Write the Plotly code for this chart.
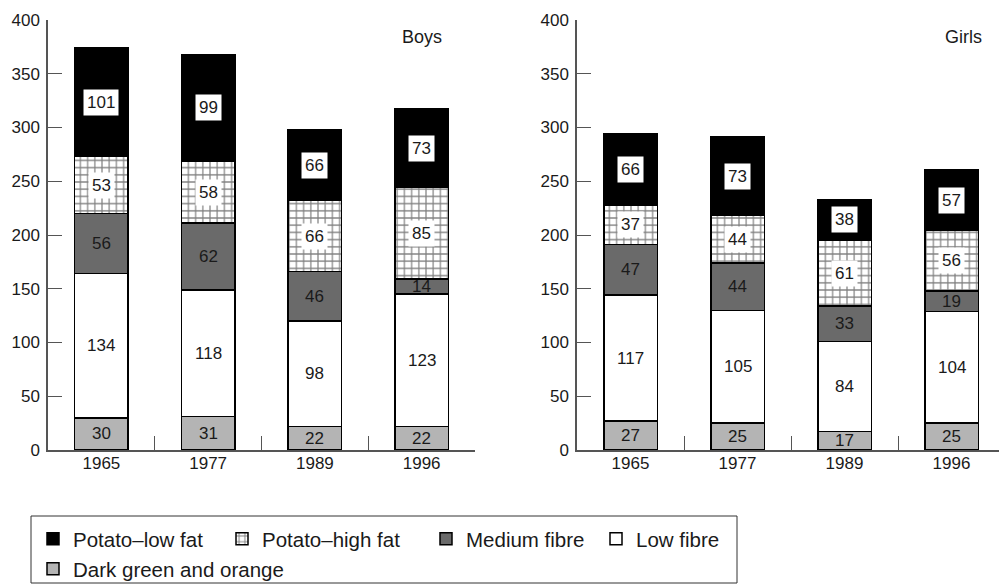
import plotly.graph_objects as go

years = ["1965", "1977", "1989", "1996"]

series_names = ["Dark green and orange", "Low fibre", "Medium fibre", "Potato\u2013high fat", "Potato\u2013low fat"]

boys_dark_green = [30, 31, 22, 22]
boys_low_fibre = [134, 118, 98, 123]
boys_medium_fibre = [56, 62, 46, 14]
boys_potato_high_fat = [53, 58, 66, 85]
boys_potato_low_fat = [101, 99, 66, 73]

girls_dark_green = [27, 25, 17, 25]
girls_low_fibre = [117, 105, 84, 104]
girls_medium_fibre = [47, 44, 33, 19]
girls_potato_high_fat = [37, 44, 61, 56]
girls_potato_low_fat = [66, 73, 38, 57]

y_ticks = [0, 50, 100, 150, 200, 250, 300, 350, 400]

FONT = "Liberation Sans, Arial, Helvetica, sans-serif"
TXT = "#1a1a1a"
AX = "#555555"
W, H = 999, 584


def px(xpix):
    return xpix / W


def py(ypix):
    return 1 - ypix / H


boys = [boys_dark_green, boys_low_fibre, boys_medium_fibre, boys_potato_high_fat, boys_potato_low_fat]
girls = [girls_dark_green, girls_low_fibre, girls_medium_fibre, girls_potato_high_fat, girls_potato_low_fat]

styles = [
    dict(color="#b4b4b4"),
    dict(color="white"),
    dict(color="#6a6a6a"),
    dict(color="white", pattern=dict(shape="+", fgcolor="black", bgcolor="white", size=7.2, solidity=0.3)),
    dict(color="black"),
]
boxed = [False, False, False, True, True]
legend_widths = [240, 100, 125, 159, 144]

fig = go.Figure()

for panel, (data, xa, ya) in enumerate([(boys, "x", "y"), (girls, "x2", "y2")]):
    for i, (name, vals) in enumerate(zip(series_names, data)):
        marker = dict(line=dict(color="black", width=1.5), **styles[i])
        fig.add_trace(go.Bar(
            x=years, y=vals, name=name, marker=marker, width=0.5,
            xaxis=xa, yaxis=ya,
            legend="legend2" if i == 0 else "legend",
            legendgroup=name, showlegend=(panel == 0),
            legendwidth=legend_widths[i], hoverinfo="skip",
        ))
    # value labels
    base = [0] * len(years)
    for i, vals in enumerate(data):
        for j, v in enumerate(vals):
            mid = base[j] + v / 2
            fig.add_annotation(
                x=j, y=mid, xref=xa, yref=ya, text=str(v), showarrow=False,
                font=dict(family=FONT, size=17, color=TXT),
                bgcolor="white" if boxed[i] else "rgba(0,0,0,0)", borderpad=3 if boxed[i] else 0,
            )
            base[j] += v

ydom = [py(450), py(20)]
axis_common = dict(
    showline=True, linecolor=AX, linewidth=1.5, ticks="inside", ticklen=14,
    tickcolor=AX, tickwidth=1.2, showgrid=False, zeroline=False, automargin=False,
    tickfont=dict(family=FONT, size=17, color=TXT),
)
fig.update_layout(
    barmode="stack",
    width=W, height=H,
    margin=dict(l=0, r=0, t=0, b=0, pad=0, autoexpand=False),
    plot_bgcolor="white", paper_bgcolor="white",
    font=dict(family=FONT, size=17, color=TXT),
    xaxis=dict(domain=[px(48), px(475)], range=[-0.5, 3.5], type="category",
               tickson="boundaries", anchor="y", ticklabelstandoff=-3, **axis_common),
    xaxis2=dict(domain=[px(577), 1.0], range=[-0.5, -0.5 + (999 - 577) / 107.0], type="category",
                tickson="boundaries", anchor="y2", ticklabelstandoff=-3, **axis_common),
    yaxis=dict(domain=ydom, range=[0, 400], tickvals=y_ticks, anchor="x", ticklabelstandoff=3, **axis_common),
    yaxis2=dict(domain=ydom, range=[0, 400], tickvals=y_ticks, anchor="x2", ticklabelstandoff=3, **axis_common),
    legend=dict(orientation="h", x=px(33), xanchor="left", y=py(539), yanchor="middle",
                traceorder="reversed", bgcolor="rgba(0,0,0,0)", borderwidth=0,
                font=dict(family=FONT, size=20.5, color=TXT)),
    legend2=dict(orientation="h", x=px(33), xanchor="left", y=py(569), yanchor="middle",
                 bgcolor="rgba(0,0,0,0)", borderwidth=0,
                 font=dict(family=FONT, size=20.5, color=TXT)),
    showlegend=True,
)

fig.add_annotation(text="Boys", x=px(422), y=py(37), xref="paper", yref="paper",
                   xanchor="center", yanchor="middle",
                   showarrow=False, font=dict(family=FONT, size=18, color=TXT))
fig.add_annotation(text="Girls", x=px(963), y=py(37), xref="paper", yref="paper",
                   xanchor="center", yanchor="middle",
                   showarrow=False, font=dict(family=FONT, size=18, color=TXT))

fig.add_shape(type="rect", xref="paper", yref="paper",
              x0=px(31), x1=px(737), y0=py(583), y1=py(516),
              line=dict(color="#333333", width=1), fillcolor="rgba(0,0,0,0)", layer="below")

fig.write_html(
    "out.html",
    config={"displayModeBar": False},
    post_script=(
        "document.documentElement.style.margin='0';"
        "document.documentElement.style.overflow='hidden';"
        "document.body.style.margin='0';"
        "document.body.style.overflow='hidden';"
        "var gd=document.getElementById('{plot_id}');"
        "gd.style.position='fixed';gd.style.left='0px';gd.style.top='0px';"
    ),
)
